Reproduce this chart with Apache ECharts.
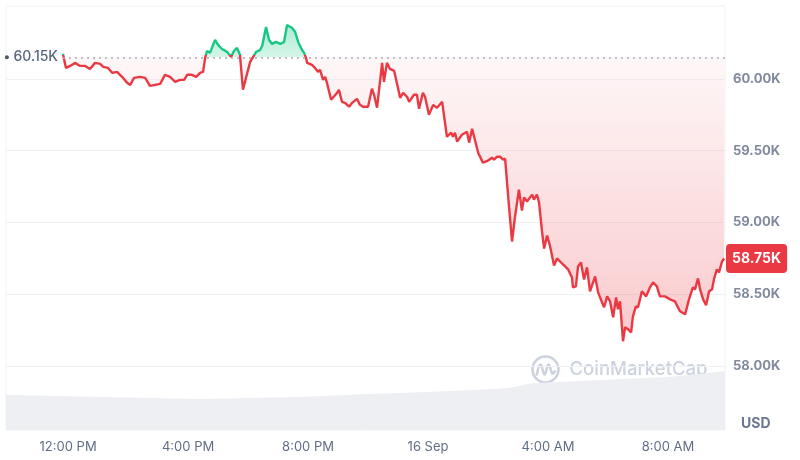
<!DOCTYPE html>
<html><head><meta charset="utf-8">
<script src="https://cdn.jsdelivr.net/npm/echarts@6/dist/echarts.min.js"></script>
<style>html,body{margin:0;padding:0;background:#fff}#c{width:800px;height:460px}</style>
</head><body><div id="c"></div>
<script>
// time in hours since 15 Sep 00:00
const hours = [
11.83,11.87,11.93,12.07,12.23,12.40,12.57,12.73,12.90,13.07,
13.17,13.33,13.47,13.63,13.80,13.97,14.07,14.20,14.40,14.57,
14.73,14.90,15.07,15.23,15.40,15.57,15.73,15.87,15.97,16.13,
16.27,16.40,16.50,16.57,16.63,16.73,16.90,17.00,17.13,17.30,
17.43,17.53,17.63,17.73,17.83,17.93,18.07,18.17,18.27,18.40,
18.47,18.60,18.70,18.80,18.93,19.07,19.20,19.30,19.47,19.57,
19.67,19.80,19.87,19.93,19.97,20.13,20.23,20.33,20.40,20.50,
20.57,20.63,20.77,20.83,20.97,21.03,21.13,21.23,21.37,21.47,
21.50,21.63,21.73,21.83,22.00,22.13,22.20,22.30,22.47,22.53,
22.63,22.73,22.87,23.07,23.17,23.30,23.37,23.53,23.63,23.70,
23.83,23.90,24.03,24.17,24.30,24.47,24.53,24.63,24.77,24.83,
24.90,24.97,25.13,25.30,25.37,25.47,25.53,25.67,25.83,26.00,
26.13,26.20,26.30,26.40,26.50,26.57,26.70,26.80,26.90,27.03,
27.13,27.20,27.30,27.47,27.53,27.63,27.70,27.80,27.87,27.97,
28.07,28.20,28.30,28.50,28.67,28.80,28.83,28.93,29.00,29.10,
29.20,29.30,29.40,29.57,29.67,29.80,29.87,29.97,30.07,30.17,
30.27,30.33,30.40,30.50,30.57,30.67,30.77,30.83,30.93,31.00,
31.13,31.27,31.40,31.50,31.63,31.73,31.90,32.07,32.23,32.40,
32.57,32.70,32.83,32.90,33.00,33.07,33.17,33.27,33.37,33.47,
33.53,33.63,33.70,33.80,33.87
];
// price in thousands USD
const prices = [
60.174,60.132,60.076,60.090,60.111,60.090,60.090,60.069,60.111,60.104,
60.083,60.076,60.042,60.049,60.014,59.972,59.958,60.007,60.014,60.007,
59.951,59.958,59.965,60.028,60.014,59.979,59.993,59.993,60.028,60.028,
60.014,60.042,60.049,60.146,60.194,60.181,60.271,60.236,60.208,60.188,
60.153,60.194,60.215,60.167,59.924,60.007,60.118,60.153,60.188,60.201,
60.229,60.361,60.271,60.243,60.257,60.243,60.257,60.375,60.354,60.326,
60.257,60.201,60.181,60.146,60.111,60.097,60.076,60.049,60.063,59.993,
60.014,59.972,59.854,59.861,59.903,59.924,59.840,59.833,59.806,59.833,
59.833,59.861,59.819,59.806,59.806,59.931,59.889,59.799,60.111,59.979,
60.111,60.069,60.056,59.868,59.903,59.875,59.840,59.889,59.889,59.792,
59.903,59.875,59.750,59.819,59.799,59.840,59.833,59.597,59.625,59.597,
59.625,59.563,59.611,59.632,59.556,59.653,59.646,59.486,59.417,59.431,
59.451,59.438,59.458,59.458,59.438,59.444,59.111,58.868,59.042,59.229,
59.083,59.174,59.146,59.194,59.160,59.194,59.139,58.938,58.819,58.910,
58.833,58.701,58.750,58.708,58.674,58.618,58.549,58.556,58.694,58.722,
58.604,58.688,58.521,58.625,58.514,58.444,58.410,58.486,58.451,58.340,
58.479,58.396,58.451,58.174,58.271,58.257,58.236,58.347,58.417,58.410,
58.521,58.486,58.549,58.583,58.556,58.486,58.486,58.465,58.451,58.382,
58.361,58.465,58.549,58.535,58.611,58.535,58.465,58.424,58.521,58.535,
58.604,58.674,58.653,58.729,58.750
];
const volHours = [9.93,13.07,16.40,19.73,21.97,23.07,24.73,26.40,26.83,27.50,28.40,29.73,31.97,33.07,33.90];
const volumes  = [8.3,7.8,7.3,7.8,8.5,8.7,9.2,9.7,10.1,11.1,11.3,11.8,12.5,13.2,13.9];
const openPrice = 60.15;
const yTicks = [58, 58.5, 59, 59.5, 60];
const xTickHours = [12, 16, 20, 24, 28, 32];
const xTickLabels = ['12:00 PM', '4:00 PM', '8:00 PM', '16 Sep', '4:00 AM', '8:00 AM'];
const xMin = 9.93, xMax = 33.9, yMin = 57.556, yMax = 60.507;

const GREEN = '#16c784', RED = '#ea3943';
const priceData = hours.map((h, i) => [h, prices[i]]);
const volData = volHours.map((h, i) => [h, volumes[i]]);
const last = prices[prices.length - 1];
const pMax = Math.max(...prices), pMin = Math.min(...prices);
const f = (pMax - openPrice) / (pMax - pMin);
const font = 'Inter, "Noto Sans", sans-serif';

const strokeGrad = {type: 'linear', x: 0, y: 0, x2: 0, y2: 1, colorStops: [
  {offset: 0, color: GREEN}, {offset: f, color: GREEN},
  {offset: f, color: RED}, {offset: 1, color: RED}
]};
const fillGrad = {type: 'linear', x: 0, y: 0, x2: 0, y2: 1, colorStops: [
  {offset: 0, color: 'rgba(22,199,132,0.34)'},
  {offset: f, color: 'rgba(22,199,132,0.18)'},
  {offset: f, color: 'rgba(234,57,67,0.04)'},
  {offset: 1, color: 'rgba(234,57,67,0.27)'}
]};

const chart = echarts.init(document.getElementById('c'), null, {renderer: 'canvas'});
chart.setOption({
  animation: false,
  backgroundColor: '#ffffff',
  grid: {left: 6, top: 6, right: 75, bottom: 30, show: true, borderColor: '#eff2f5', borderWidth: 1},
  xAxis: {
    type: 'value', min: xMin, max: xMax,
    axisLine: {show: false},
    axisTick: {show: false, customValues: xTickHours},
    splitLine: {show: false},
    axisLabel: {
      customValues: xTickHours, margin: 11, color: '#616e85', fontSize: 13, fontFamily: font,
      formatter: v => xTickLabels[xTickHours.indexOf(Math.round(v))] || ''
    }
  },
  yAxis: [{
    type: 'value', position: 'right', min: yMin, max: yMax,
    axisLine: {show: false},
    axisTick: {show: false, customValues: yTicks},
    splitLine: {show: true, lineStyle: {color: '#eff2f5', width: 1}},
    axisLabel: {
      customValues: yTicks, margin: 8, color: '#808a9d', fontSize: 13, fontWeight: 'bold', fontFamily: font,
      formatter: v => v.toFixed(2) + 'K'
    }
  }, {
    type: 'value', min: 0, max: 100, show: false, splitLine: {show: false}
  }, {
    type: 'value', position: 'right', min: yMin, max: yMax, offset: 0,
    axisLine: {show: false},
    axisTick: {show: false, customValues: [last]},
    splitLine: {show: false},
    axisLabel: {
      customValues: [last], margin: 1, color: '#ffffff', fontSize: 14, fontWeight: 'bold', fontFamily: font,
      backgroundColor: RED, padding: [8, 6, 7, 6], borderRadius: 4,
      formatter: v => v.toFixed(2) + 'K'
    },
    z: 20
  }],
  series: [{
    name: 'Volume', type: 'line', yAxisIndex: 1, data: volData, symbol: 'none',
    lineStyle: {width: 0}, areaStyle: {color: '#edeff3', opacity: 1}, z: 1, silent: true
  }, {
    name: 'Price', type: 'line', data: priceData, symbol: 'none', z: 3,
    lineStyle: {width: 2.4, color: strokeGrad},
    itemStyle: {color: RED},
    areaStyle: {origin: openPrice, opacity: 1, color: fillGrad},
    markLine: {
      silent: true, symbol: ['none', 'none'], animation: false,
      data: [
        [{coord: [hours[0], openPrice],
          lineStyle: {color: '#a6abb8', type: [2, 4], width: 1.5},
          label: {show: true, position: 'start', distance: 5, formatter: (openPrice).toFixed(2) + 'K',
                  color: '#58667e', fontSize: 14, fontWeight: 500, fontFamily: font}},
         {coord: [xMax, openPrice]}]
      ]
    },
    markPoint: {
      silent: true, symbol: 'circle', symbolSize: 4,
      itemStyle: {color: '#4a5a63'}, label: {show: false},
      data: [{coord: [xMin + 0.03, openPrice]}]
    }
  }],
  graphic: [
    {type: 'text', left: 741, top: 417, style: {text: 'USD', fill: '#6b7690', fontSize: 14, fontWeight: 'bold', fontFamily: font}, z: 10},
    {type: 'group', left: 530, top: 354, z: 0, silent: true, children: [
      {type: 'circle', shape: {cx: 15, cy: 15, r: 13}, style: {fill: 'none', stroke: '#ccd2dd', lineWidth: 2.5}},
      {type: 'polyline', shape: {points: [[6, 21], [10, 10], [14, 20], [18, 10], [22, 19], [25, 16]], smooth: 0.4},
       style: {fill: 'none', stroke: '#ccd2dd', lineWidth: 2.5}},
      {type: 'text', x: 39, y: 5, style: {text: 'CoinMarketCap', fill: '#ccd2dd', fontSize: 18.5, fontWeight: 500, fontFamily: font}}
    ]}
  ]
});
</script>
</body></html>
